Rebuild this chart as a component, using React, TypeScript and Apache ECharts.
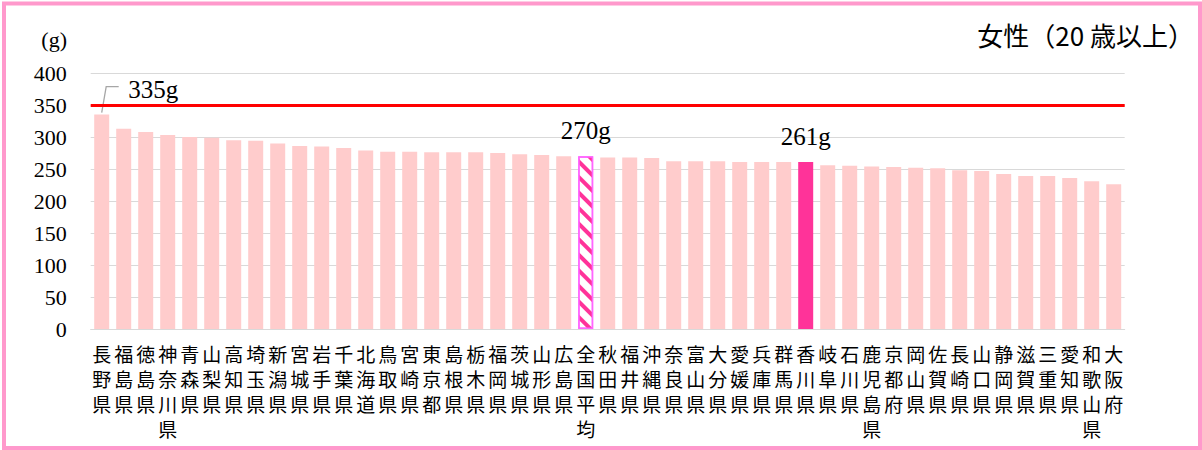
import React, { useEffect, useRef } from "react";
import * as echarts from "echarts";

const categories: string[] = [
  "長野県", "福島県", "徳島県", "神奈川県", "青森県", "山梨県", "高知県", "埼玉県",
  "新潟県", "宮城県", "岩手県", "千葉県", "北海道", "鳥取県", "宮崎県", "東京都",
  "島根県", "栃木県", "福岡県", "茨城県", "山形県", "広島県", "全国平均", "秋田県",
  "福井県", "沖縄県", "奈良県", "富山県", "大分県", "愛媛県", "兵庫県", "群馬県",
  "香川県", "岐阜県", "石川県", "鹿児島県", "京都府", "岡山県", "佐賀県", "長崎県",
  "山口県", "静岡県", "滋賀県", "三重県", "愛知県", "和歌山県", "大阪府",
];

const values: number[] = [
  335, 313, 308, 303, 300, 299, 295, 294,
  290, 286, 285, 283, 279, 277, 277, 276,
  276, 276, 275, 273, 272, 270, 270, 268,
  268, 267, 262, 262, 262, 261, 261, 261,
  261, 256, 255, 254, 253, 252, 251, 248,
  247, 242, 239, 239, 236, 231, 226,
];

const targetValue = 350;
const yTicks = { min: 0, max: 400, interval: 50 };
const nationalName = "全国平均";
const highlightName = "香川県";
const title = "女性（20 歳以上）";
const unitLabel = "(g)";

const SERIF = "Liberation Serif";
const CJK = "Noto Sans CJK JP";

export default function App() {
  const ref = useRef<HTMLDivElement>(null);

  useEffect(() => {
    if (!ref.current) return;
    const chart = echarts.init(ref.current, null, { renderer: "svg" });

    const maxIdx = values.indexOf(Math.max(...values));

    const dataLabel = {
      show: true,
      position: "top",
      distance: 13,
      formatter: "{c}g",
      fontFamily: SERIF,
      fontSize: 25,
      color: "#000",
    };

    const data = values.map((v, i) => {
      const name = categories[i];
      if (name === nationalName) {
        return {
          value: v,
          itemStyle: {
            color: "#FFFFFF",
            borderColor: "#FF66FF",
            borderWidth: 1.5,
            decal: {
              symbol: "rect",
              symbolSize: 1,
              color: "#FF3399",
              backgroundColor: "#FFFFFF",
              dashArrayX: [1, 0],
              dashArrayY: [4, 7],
              rotation: Math.PI / 4,
            },
          },
          label: dataLabel,
        };
      }
      if (name === highlightName) {
        return {
          value: v,
          itemStyle: { color: "#FF3399" },
          label: dataLabel,
        };
      }
      return { value: v };
    });

    chart.setOption({
      animation: false,
      grid: { left: 90.7, right: 77.3, top: 73, bottom: 121, containLabel: false },
      xAxis: {
        type: "category",
        data: categories,
        axisTick: { show: false },
        axisLine: { lineStyle: { color: "#D9D9D9", width: 1 } },
        axisLabel: {
          interval: 0,
          margin: 12,
          fontFamily: CJK,
          fontSize: 19,
          lineHeight: 25,
          color: "#000",
          formatter: (v: string) => v.split("").join("\n"),
        },
      },
      yAxis: {
        type: "value",
        min: yTicks.min,
        max: yTicks.max,
        interval: yTicks.interval,
        axisLine: { show: false },
        axisTick: { show: false },
        splitLine: { lineStyle: { color: "#D9D9D9", width: 1 } },
        axisLabel: {
          margin: 24,
          fontFamily: SERIF,
          fontSize: 22,
          color: "#000",
        },
      },
      series: [
        {
          type: "bar",
          data,
          barWidth: 15,
          itemStyle: { color: "#FFCCCC" },
          markLine: {
            silent: true,
            symbol: "none",
            label: { show: false },
            lineStyle: { color: "#FF0000", width: 3, type: "solid" },
            data: [{ yAxis: targetValue }],
          },
        },
      ],
    });

    const p = chart.convertToPixel({ xAxisIndex: 0, yAxisIndex: 0 }, [maxIdx, values[maxIdx]]) as number[];

    chart.setOption({
      graphic: [
        {
          type: "rect",
          shape: { x: 4, y: 3.5, width: 1196, height: 444.5 },
          style: { fill: "none", stroke: "#FF99CC", lineWidth: 4 },
          silent: true,
        },
        {
          type: "text",
          x: 67,
          y: 39,
          style: {
            text: unitLabel,
            fontFamily: SERIF,
            fontSize: 22,
            fill: "#000",
            textAlign: "right",
            textVerticalAlign: "middle",
          },
        },
        {
          type: "text",
          x: 1194,
          y: 34,
          style: {
            text: title,
            fontFamily: CJK,
            fontSize: 26,
            fill: "#000",
            textAlign: "right",
            textVerticalAlign: "middle",
          },
        },
        {
          type: "polyline",
          shape: {
            points: [
              [p[0], p[1] - 2],
              [p[0] + 4.5, p[1] - 28],
              [p[0] + 17, p[1] - 28],
            ],
          },
          style: { stroke: "#A6A6A6", lineWidth: 1.3, fill: "none" },
          silent: true,
        },
        {
          type: "text",
          x: p[0] + 26.5,
          y: p[1] - 25,
          style: {
            text: values[maxIdx] + "g",
            fontFamily: SERIF,
            fontSize: 25,
            fill: "#000",
            textAlign: "left",
            textVerticalAlign: "middle",
          },
        },
      ],
    });

    return () => chart.dispose();
  }, []);

  return (
    <div
      ref={ref}
      style={{ position: "fixed", left: 0, top: 0, width: 1202, height: 450, background: "#FFFFFF" }}
    />
  );
}
